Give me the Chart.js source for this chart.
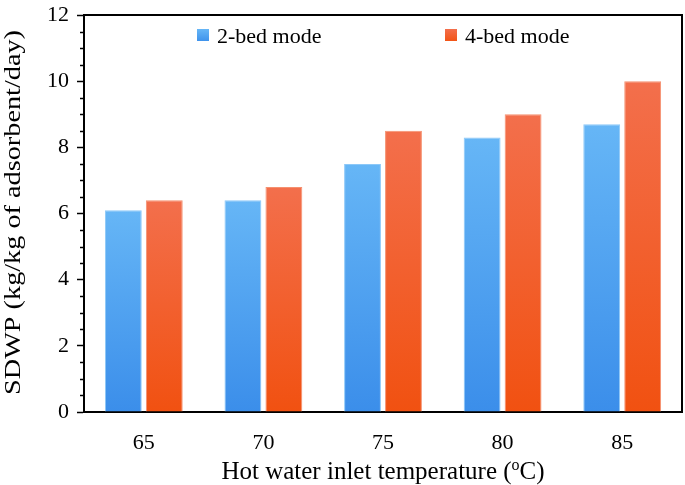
<!DOCTYPE html>
<html>
<head>
<meta charset="utf-8">
<script src="https://cdn.jsdelivr.net/npm/chart.js@4"></script>
<style>
  html, body { margin: 0; padding: 0; background: #fff; }
  #wrap { width: 685px; height: 485px; }
</style>
</head>
<body>
<div id="wrap"><canvas id="bar_chart"></canvas></div>
<script>
// data
const temps     = ['65', '70', '75', '80', '85'];
const twoBed    = [6.1, 6.4, 7.5, 8.3, 8.7];
const fourBed   = [6.4, 6.8, 8.5, 9.0, 10.0];
const yMax      = 12;
const yStep     = 2;
const minorStep = 0.5;

const serif = "'Liberation Serif', 'Times New Roman', serif";

// per-bar vertical gradient, lighter at the top
const barGradient = (top, bottom) => (ctx) => {
    const chart = ctx.chart;
    const area = chart.chartArea;
    if (!area || ctx.parsed == null) return bottom;
    const yTop = chart.scales.y.getPixelForValue(ctx.parsed.y);
    const g = chart.ctx.createLinearGradient(0, area.bottom, 0, yTop);
    g.addColorStop(0, bottom);
    g.addColorStop(1, top);
    return g;
};

// frame, minor ticks, legend inside plot, axis titles
const decorations = {
    id: 'decorations',
    afterDraw(chart) {
        const c = chart.ctx;
        const a = chart.chartArea;
        const y = chart.scales.y;
        c.save();
        c.strokeStyle = '#000';
        c.lineWidth = 2;
        c.beginPath();
        c.moveTo(a.left, a.top);
        c.lineTo(a.right, a.top);
        c.lineTo(a.right, a.bottom);
        c.stroke();

        c.lineWidth = 1.5;
        for (let v = 0; v <= yMax; v += minorStep) {
            if (v % yStep === 0) continue;
            const py = Math.round(y.getPixelForValue(v)) + 0.5;
            c.beginPath();
            c.moveTo(a.left - 4, py);
            c.lineTo(a.left, py);
            c.stroke();
        }

        // legend
        c.font = '22px ' + serif;
        c.textBaseline = 'middle';
        const items = [
            { label: '2-bed mode', top: '#66b6f6', bottom: '#3f93ec', x: a.left + 113 },
            { label: '4-bed mode', top: '#f36f4c', bottom: '#f25416', x: a.left + 361 }
        ];
        const ly = a.top + 20;
        items.forEach(it => {
            const g = c.createLinearGradient(0, ly - 6, 0, ly + 6);
            g.addColorStop(0, it.top);
            g.addColorStop(1, it.bottom);
            c.fillStyle = g;
            c.fillRect(it.x, ly - 6, 12, 12);
            c.fillStyle = '#000';
            c.textAlign = 'left';
            c.fillText(it.label, it.x + 20, ly + 2);
        });

        // y axis title, stretched along its length like the original
        const yTitle = 'SDWP (kg/kg of adsorbent/day)';
        c.font = '23px ' + serif;
        const tw = c.measureText(yTitle).width;
        c.save();
        c.translate(14, (a.top + a.bottom) / 2 - 1);
        c.rotate(-Math.PI / 2);
        c.scale(365 / tw, 1);
        c.textAlign = 'center';
        c.textBaseline = 'middle';
        c.fillText(yTitle, 0, 0);
        c.restore();

        // x axis title: Hot water inlet temperature (oC)
        const t1 = 'Hot water inlet temperature (';
        const sup = 'o';
        const t2 = 'C)';
        c.font = '25px ' + serif;
        const w1 = c.measureText(t1).width;
        const w2 = c.measureText(t2).width;
        c.font = '16px ' + serif;
        const ws = c.measureText(sup).width;
        const total = w1 + ws + w2;
        const x0 = (a.left + a.right) / 2 - total / 2;
        const by = 479;
        c.textBaseline = 'alphabetic';
        c.textAlign = 'left';
        c.font = '25px ' + serif;
        c.fillText(t1, x0, by);
        c.font = '16px ' + serif;
        c.fillText(sup, x0 + w1, by - 9);
        c.font = '25px ' + serif;
        c.fillText(t2, x0 + w1 + ws, by);
        c.restore();
    }
};

const bar_chart = document.getElementById('bar_chart');

var bar_chart_ref = new Chart(bar_chart, {
    type: 'bar',
    data: {
        labels: temps,
        datasets: [{
            label: '2-bed mode',
            data: twoBed,
            backgroundColor: barGradient('#66b6f6', '#3b8eea'),
            borderColor: '#8cc8f8',
            borderWidth: 1,
            barPercentage: 0.9,
            categoryPercentage: 0.685
        }, {
            label: '4-bed mode',
            data: fourBed,
            backgroundColor: barGradient('#f36f4c', '#f15111'),
            borderColor: '#f5906f',
            borderWidth: 1,
            barPercentage: 0.9,
            categoryPercentage: 0.685
        }]
    },
    options: {
        responsive: true,
        maintainAspectRatio: false,
        animation: false,
        layout: { padding: { top: 15, right: 3, left: 0, bottom: 0 } },
        plugins: {
            legend: { display: false },
            tooltip: { enabled: false }
        },
        scales: {
            x: {
                grid: { display: false },
                border: { color: '#000', width: 2 },
                ticks: {
                    color: '#000',
                    padding: 10,
                    font: { family: serif, size: 22 }
                },
                afterFit(scale) { scale.height = 73; }
            },
            y: {
                min: 0,
                max: yMax,
                grid: {
                    drawOnChartArea: false,
                    tickLength: 7,
                    tickColor: '#000',
                    tickWidth: 1.5
                },
                border: { color: '#000', width: 2 },
                ticks: {
                    stepSize: yStep,
                    color: '#000',
                    padding: 8,
                    font: { family: serif, size: 22 }
                },
                afterFit(scale) {
                    scale.width = 84;
                    scale.paddingTop = 0;
                    scale.paddingBottom = 0;
                }
            }
        }
    },
    plugins: [decorations]
});
</script>
</body>
</html>
